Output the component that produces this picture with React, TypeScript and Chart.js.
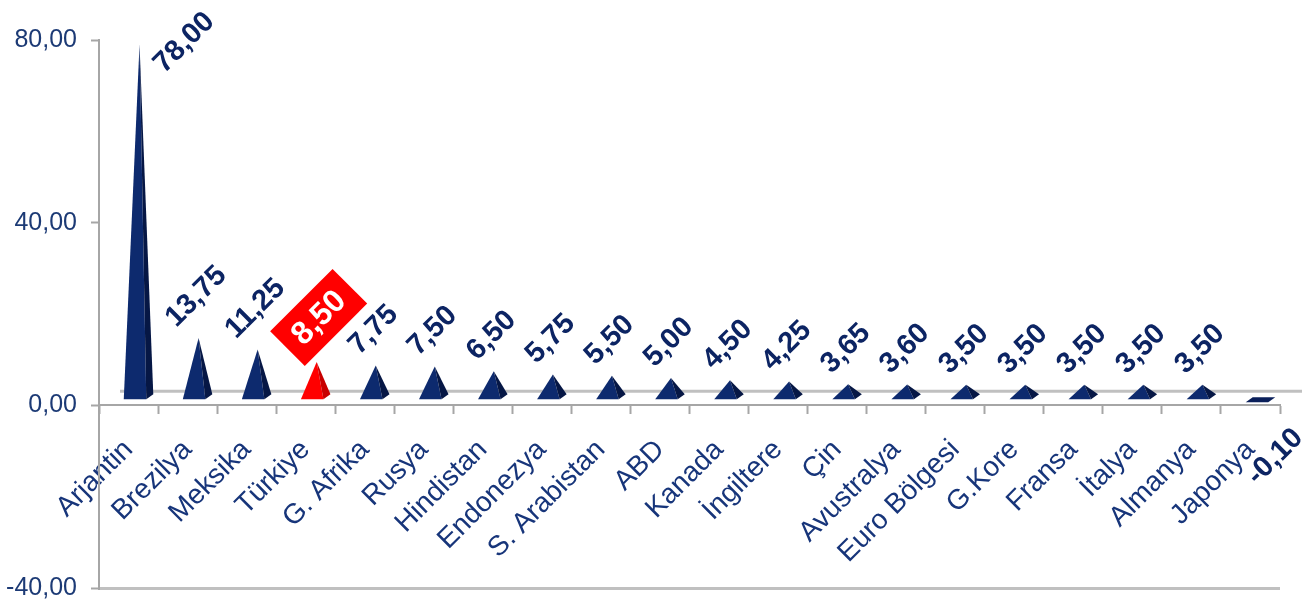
import React, { useEffect, useRef } from 'react';
import { Chart, registerables } from 'chart.js';

Chart.register(...registerables);

const categories = [
  'Arjantin', 'Brezilya', 'Meksika', 'Türkiye', 'G. Afrika', 'Rusya', 'Hindistan',
  'Endonezya', 'S. Arabistan', 'ABD', 'Kanada', 'İngiltere', 'Çin', 'Avustralya',
  'Euro Bölgesi', 'G.Kore', 'Fransa', 'İtalya', 'Almanya', 'Japonya',
];
const rates = [
  78.0, 13.75, 11.25, 8.5, 7.75, 7.5, 6.5, 5.75, 5.5, 5.0,
  4.5, 4.25, 3.65, 3.6, 3.5, 3.5, 3.5, 3.5, 3.5, -0.1,
];
const yTicks = [-40, 0, 40, 80];
const highlighted = 'Türkiye';

const FONT = '"Liberation Sans", Arial, sans-serif';
const NAVY = '#0c2463';
const AXIS_GREY = '#a6a6a6';
const FLOOR_GREY = '#c0c0c0';

// virgüllü format: 8.5 -> "8,50"
const fmt = (v: number) => v.toFixed(2).replace('.', ',');

// 3B görünüm için kaydırma
const DX = 10;
const DY = -4.5;
const DEPTH = 7;

const pyramidPlugin = {
  id: 'pyramids',
  beforeDatasetsDraw(chart: any) {
    const { ctx, chartArea, scales } = chart;
    const y0 = scales.y.getPixelForValue(0);
    ctx.save();
    ctx.strokeStyle = FLOOR_GREY;
    ctx.lineWidth = 3;
    ctx.beginPath();
    ctx.moveTo(chartArea.left + 21, y0 - 14);
    ctx.lineTo(chartArea.right + 22, y0 - 14);
    ctx.stroke();
    ctx.restore();
  },
  afterDatasetsDraw(chart: any) {
    const { ctx, scales } = chart;
    const y0 = scales.y.getPixelForValue(0);
    const meta = chart.getDatasetMeta(0);
    meta.data.forEach((bar: any, i: number) => {
      const { x, y, base, width } = bar.getProps(['x', 'y', 'base', 'width'], true);
      const v = rates[i];
      const hot = categories[i] === highlighted;
      const cx = x + DX;
      const yb = base + DY;
      const top = y + DY;
      const half = width / 2;
      const front = hot ? '#ff0000' : '#0d2a6e';
      const side = hot ? '#c80000' : '#061745';

      ctx.save();
      if (v <= 0) {
        ctx.fillStyle = '#0a1f5a';
        ctx.beginPath();
        ctx.moveTo(cx - half, yb);
        ctx.lineTo(cx + half - DEPTH, yb);
        ctx.lineTo(cx + half, yb - 5);
        ctx.lineTo(cx - half + DEPTH, yb - 5);
        ctx.closePath();
        ctx.fill();
      } else {
        ctx.fillStyle = front;
        ctx.beginPath();
        ctx.moveTo(cx - half, yb);
        ctx.lineTo(cx + half - DEPTH, yb);
        ctx.lineTo(cx + 1, top);
        ctx.closePath();
        ctx.fill();
        ctx.fillStyle = side;
        ctx.beginPath();
        ctx.moveTo(cx + half - DEPTH, yb);
        ctx.lineTo(cx + half, yb - 5);
        ctx.lineTo(cx + 1, top);
        ctx.closePath();
        ctx.fill();
      }

      // değer etiketi
      const text = fmt(v);
      const size = hot ? 32 : 29;
      ctx.font = `bold ${size}px ${FONT}`;
      const tw = ctx.measureText(text).width;
      const bw = hot ? tw + 26 : tw;
      const bh = hot ? 49 : size * 0.72;
      const ext = (bw + bh) / (2 * Math.SQRT2);
      let lx = hot ? cx + 3 : cx - 2;
      let ly = top - (hot ? ext - 4 : ext + 9);
      if (v < 0) {
        lx = cx + 14;
        ly = Math.max(top, y0) + 20 + ext;
      } else if (ly - ext < 0) {
        lx = cx + 12 + ext;
        ly = ext + 9;
      }
      ctx.translate(lx, ly);
      ctx.rotate(-Math.PI / 4);
      if (hot) {
        ctx.fillStyle = '#ff0000';
        ctx.fillRect(-bw / 2, -bh / 2, bw, bh);
        ctx.fillStyle = '#ffffff';
      } else {
        ctx.fillStyle = NAVY;
      }
      ctx.textAlign = 'center';
      ctx.textBaseline = 'middle';
      ctx.fillText(text, 0, 1);
      ctx.restore();
    });
  },
};

const App: React.FC = () => {
  const canvasRef = useRef<HTMLCanvasElement | null>(null);

  useEffect(() => {
    if (!canvasRef.current) return;
    const chart = new Chart(canvasRef.current, {
      type: 'bar',
      data: {
        labels: categories,
        datasets: [
          {
            data: rates,
            backgroundColor: 'rgba(0,0,0,0)',
            borderWidth: 0,
            categoryPercentage: 1,
            barPercentage: 0.5,
          },
        ],
      },
      options: {
        responsive: true,
        maintainAspectRatio: false,
        animation: false,
        layout: { padding: { left: 0, right: 36, top: 40, bottom: 19 } },
        plugins: {
          legend: { display: false },
          tooltip: { enabled: false },
        },
        scales: {
          x: {
            position: { y: 0 } as any,
            offset: true,
            grid: {
              offset: true,
              drawOnChartArea: false,
              drawTicks: true,
              tickLength: 8,
              tickColor: AXIS_GREY,
              tickWidth: 2,
            },
            border: { color: AXIS_GREY, width: 2 },
            ticks: {
              autoSkip: false,
              maxRotation: 45,
              minRotation: 45,
              padding: 20,
              color: '#17357a',
              font: { family: FONT, size: 28 },
            },
          },
          y: {
            min: yTicks[0],
            max: yTicks[yTicks.length - 1],
            afterFit: (s: any) => {
              s.width = 99;
            },
            afterBuildTicks: (s: any) => {
              s.ticks = yTicks.map((value) => ({ value }));
            },
            grid: {
              drawOnChartArea: true,
              color: (c: any) => (c.tick && c.tick.value === yTicks[0] ? FLOOR_GREY : 'rgba(0,0,0,0)'),
              lineWidth: 3,
              tickLength: 8,
              tickColor: AXIS_GREY,
              tickWidth: 2,
            },
            border: { color: AXIS_GREY, width: 2 },
            ticks: {
              padding: 14,
              color: '#1c3a75',
              font: { family: FONT, size: 25, lineHeight: 0.4 },
              callback: (v: any) => fmt(Number(v)),
            },
          },
        },
      },
      plugins: [pyramidPlugin],
    });
    return () => chart.destroy();
  }, []);

  return (
    <div style={{ position: 'fixed', left: 0, top: 0, width: 1316, height: 607, background: '#fff' }}>
      <canvas ref={canvasRef}></canvas>
    </div>
  );
};

export default App;
